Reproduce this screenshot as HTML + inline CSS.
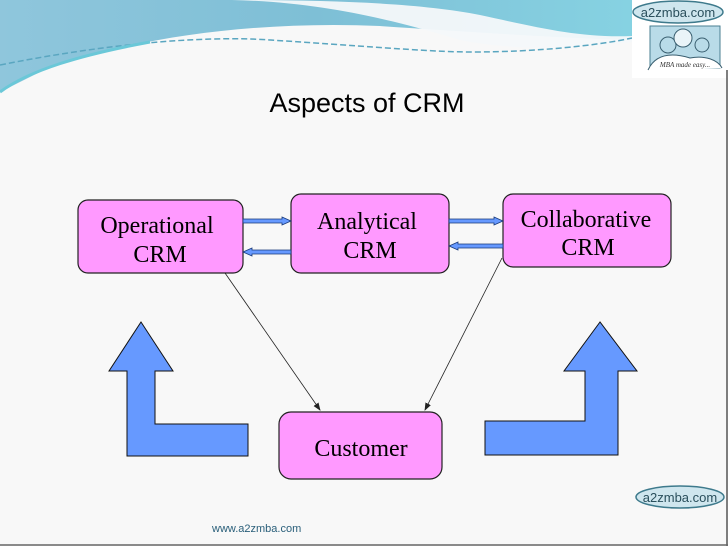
<!DOCTYPE html>
<html><head><style>
body{margin:0;width:728px;height:546px;overflow:hidden;background:#f8f8f8;}
svg{display:block}
</style></head><body>
<svg width="728" height="546" viewBox="0 0 728 546" xmlns="http://www.w3.org/2000/svg">
<defs>
<linearGradient id="hg" x1="0" y1="0" x2="1" y2="0">
<stop offset="0" stop-color="#8fc6dc"/><stop offset="0.5" stop-color="#7ebfd6"/><stop offset="1" stop-color="#86d2e2"/>
</linearGradient>
<marker id="ah" markerWidth="8" markerHeight="8" refX="7" refY="4" orient="auto" markerUnits="userSpaceOnUse"><path d="M0,1 L8,4 L0,7 z" fill="#222"/></marker>
</defs>
<rect width="728" height="546" fill="#f8f8f8"/>
<!-- header wave -->
<path d="M0,0 H632 V40 C560,38 470,32 380,26 C250,20 120,40 40,72 L0,92 Z" fill="url(#hg)"/>
<path d="M232,0 C330,2 410,25 460,40 C520,52 580,48 632,42 V36 C580,38 540,28 480,15 C420,3 330,0 232,0Z" fill="#f4f8fa" opacity="0.95"/>
<path d="M0,65 C100,45 200,35 270,40 C350,45 430,52 470,52 C540,52 600,45 632,38" stroke="#5aa6c0" stroke-width="1.5" fill="none" stroke-dasharray="6 3"/>
<path d="M0,92 C30,70 80,55 150,42" stroke="#6bc8d8" stroke-width="3" fill="none"/>
<!-- logo -->
<rect x="632" y="0" width="96" height="78" fill="#fff"/>
<ellipse cx="678" cy="12" rx="45" ry="11" fill="#cfe6ee" stroke="#3e7a8c" stroke-width="1.5"/>
<text x="678" y="17" text-anchor="middle" font-family="Liberation Sans, sans-serif" font-size="13" fill="#2a4f5c">a2zmba.com</text>
<rect x="650" y="26" width="70" height="42" fill="#b9dbe8" stroke="#4a7f92"/>
<circle cx="668" cy="45" r="8" fill="none" stroke="#3a5f70"/>
<circle cx="683" cy="38" r="9" fill="#eaf4f8" stroke="#3a5f70"/>
<circle cx="702" cy="45" r="7" fill="none" stroke="#3a5f70"/>
<path d="M648,70 C655,55 670,52 690,58 C705,55 718,60 722,68" fill="#fff" stroke="#3a5f70"/>
<text x="685" y="67" text-anchor="middle" font-family="Liberation Serif, serif" font-style="italic" font-size="7" fill="#333">MBA made easy...</text>
<line x1="727" y1="70" x2="727" y2="546" stroke="#555" stroke-width="1.5"/>
<!-- title -->
<text x="367" y="112" text-anchor="middle" font-family="Liberation Sans, sans-serif" font-size="27" fill="#000">Aspects of CRM</text>
<!-- boxes -->
<g font-family="Liberation Serif, serif" font-size="24" fill="#000" text-anchor="middle">
<rect x="78" y="200" width="165" height="73" rx="10" fill="#ff99ff" stroke="#222" stroke-width="1.2"/>
<text x="157" y="233">Operational</text><text x="160" y="262">CRM</text>
<rect x="291" y="194" width="158" height="79" rx="10" fill="#ff99ff" stroke="#222" stroke-width="1.2"/>
<text x="367" y="229">Analytical</text><text x="370" y="258">CRM</text>
<rect x="503" y="194" width="168" height="73" rx="10" fill="#ff99ff" stroke="#222" stroke-width="1.2"/>
<text x="586" y="227">Collaborative</text><text x="588" y="255">CRM</text>
<rect x="279" y="412" width="163" height="67" rx="12" fill="#ff99ff" stroke="#222" stroke-width="1.2"/>
<text x="361" y="456">Customer</text>
</g>
<!-- double arrows -->
<g fill="#6699ff" stroke="#1a3a7a" stroke-width="0.8">
<path d="M243,219 H282 V217 L291,221 L282,225 V223 H243 Z"/>
<path d="M291,250 H252 V248 L243,252 L252,256 V254 H291 Z"/>
<path d="M449,219 H494 V217 L503,221 L494,225 V223 H449 Z"/>
<path d="M503,244 H458 V242 L449,246 L458,250 V248 H503 Z"/>
</g>
<!-- connectors -->
<line x1="225" y1="273" x2="320" y2="410" stroke="#222" stroke-width="0.8" marker-end="url(#ah)"/>
<line x1="502" y1="258" x2="425" y2="410" stroke="#222" stroke-width="0.8" marker-end="url(#ah)"/>
<!-- big arrows -->
<path d="M141,322 L109,371 L127,371 L127,456 L248,456 L248,424 L155,424 L155,371 L173,371 Z" fill="#6699ff" stroke="#111" stroke-width="1"/>
<path d="M600,322 L564,371 L585,371 L585,421 L485,421 L485,455 L618,455 L618,371 L637,371 Z" fill="#6699ff" stroke="#111" stroke-width="1"/>
<!-- bottom logo -->
<ellipse cx="680" cy="497" rx="44" ry="11" fill="#cfe6ee" stroke="#3e7a8c" stroke-width="1.5"/>
<text x="680" y="502" text-anchor="middle" font-family="Liberation Sans, sans-serif" font-size="13" fill="#2a4f5c">a2zmba.com</text>
<text x="212" y="532" font-family="Liberation Sans, sans-serif" font-size="11" fill="#2a5f7a">www.a2zmba.com</text>
<line x1="0" y1="545" x2="728" y2="545" stroke="#666" stroke-width="1.5"/>
</svg>
</body></html>
